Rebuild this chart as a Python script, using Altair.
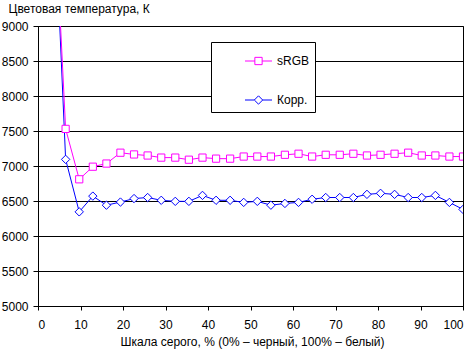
import altair as alt
import pandas as pd

# Gray-scale steps (% of white) and measured colour temperatures, K
gray_pct = [3.2, 6.5, 9.7, 12.9, 16.1, 19.4, 22.6, 25.8, 29.0, 32.3, 35.5,
            38.7, 41.9, 45.2, 48.4, 51.6, 54.8, 58.1, 61.3, 64.5, 67.7, 71.0,
            74.2, 77.4, 80.6, 83.9, 87.1, 90.3, 93.5, 96.8, 100.0]

temp_srgb = [11600, 7530, 6810, 6990, 7035, 7190, 7165, 7150, 7120, 7120, 7090,
             7120, 7105, 7105, 7135, 7135, 7135, 7160, 7175, 7135, 7160, 7160,
             7175, 7150, 7160, 7175, 7190, 7150, 7150, 7135, 7135]

temp_corr = [11650, 7095, 6345, 6570, 6440, 6485, 6535, 6550, 6510, 6495, 6495,
             6580, 6510, 6510, 6480, 6495, 6440, 6465, 6480, 6525, 6550, 6550,
             6550, 6595, 6610, 6595, 6550, 6550, 6580, 6480, 6380]

series_names = ["sRGB", "Корр."]
series_colors = ["#ff00ff", "#0000ff"]

# legend glyphs: short line with the series marker in the middle
legend_paths = [
    "M-1,0H-0.27M-0.27,-0.27H0.27V0.27H-0.27ZM0.27,0H1",
    "M-1,0H-0.31M-0.31,0L0,-0.31L0.31,0L0,0.31ZM0.31,0H1",
]

FONT = "Liberation Sans"

df = pd.concat([
    pd.DataFrame({"gray": gray_pct, "temp": temp_srgb, "series": series_names[0]}),
    pd.DataFrame({"gray": gray_pct, "temp": temp_corr, "series": series_names[1]}),
], ignore_index=True)

x_enc = alt.X(
    "gray:Q",
    scale=alt.Scale(domain=[0, 100], nice=False),
    axis=alt.Axis(
        values=list(range(0, 101, 10)), grid=False, tickSize=4,
        labelPadding=9, labelFontSize=12, format="d",
        title="Шкала серого, % (0% – черный, 100% – белый)",
        titleFontSize=12, titleFontWeight="normal", titleBaseline="alphabetic",
        titleY=39, titleX=214,
    ),
)
y_enc = alt.Y(
    "temp:Q",
    scale=alt.Scale(domain=[5000, 9000], nice=False),
    axis=alt.Axis(
        values=list(range(5000, 9001, 500)), grid=True, tickSize=5,
        labelPadding=5, labelFontSize=12, format="d",
        title="Цветовая температура, К", titleAngle=0, titleAlign="left",
        titleBaseline="alphabetic", titleX=-30, titleY=-14,
        titleFontSize=12, titleFontWeight="normal",
    ),
)


def series_layers(name, color, shape, size):
    sub = alt.Chart(df).transform_filter(alt.datum.series == name)
    line = sub.mark_line(clip=True, strokeWidth=1, color=color).encode(x=x_enc, y=y_enc)
    pts = sub.mark_point(
        clip=True, shape=shape, size=size, filled=False, fill="white",
        fillOpacity=1, opacity=1, stroke=color, strokeWidth=1,
    ).encode(x=x_enc, y=y_enc)
    return [line, pts]


legend_def = alt.Legend(
    title=None, orient="none", legendX=173, legendY=16, padding=5,
    fillColor="white", strokeColor="black",
    symbolSize=729, symbolStrokeWidth=1, symbolOffset=28.5,
    labelOffset=4.5, rowPadding=19, labelFontSize=12, labelFont=FONT,
    labelColor="black",
    labelExpr="datum.label + '\u00a0\u00a0\u00a0\u00a0\u00a0\u00a0\u00a0\u00a0'",
)

legend_layer = alt.Chart(df).transform_filter("false").mark_point(
    filled=False, size=729, strokeWidth=1, opacity=1,
).encode(
    color=alt.Color("series:N", scale=alt.Scale(domain=series_names, range=series_colors),
                    legend=legend_def),
    shape=alt.Shape("series:N", scale=alt.Scale(domain=series_names, range=legend_paths),
                    legend=legend_def),
)

chart = alt.layer(
    *series_layers("Корр.", series_colors[1], "diamond", 70),
    *series_layers("sRGB", series_colors[0], "square", 52),
    legend_layer,
).properties(
    width=425, height=280,
    padding={"left": 38, "top": 26, "right": 10, "bottom": 43},
    autosize=alt.AutoSizeParams(type="none"),
).configure(
    font=FONT,
).configure_view(
    stroke="black", strokeWidth=1,
).configure_axis(
    domainColor="black", tickColor="black", gridColor="black", gridWidth=1,
    labelColor="black", titleColor="black", labelFont=FONT, titleFont=FONT,
    domainWidth=1, tickWidth=1,
).configure_legend(
    strokeWidth=1,
)

chart.save("out.html", embed_options={"renderer": "svg", "actions": False})
